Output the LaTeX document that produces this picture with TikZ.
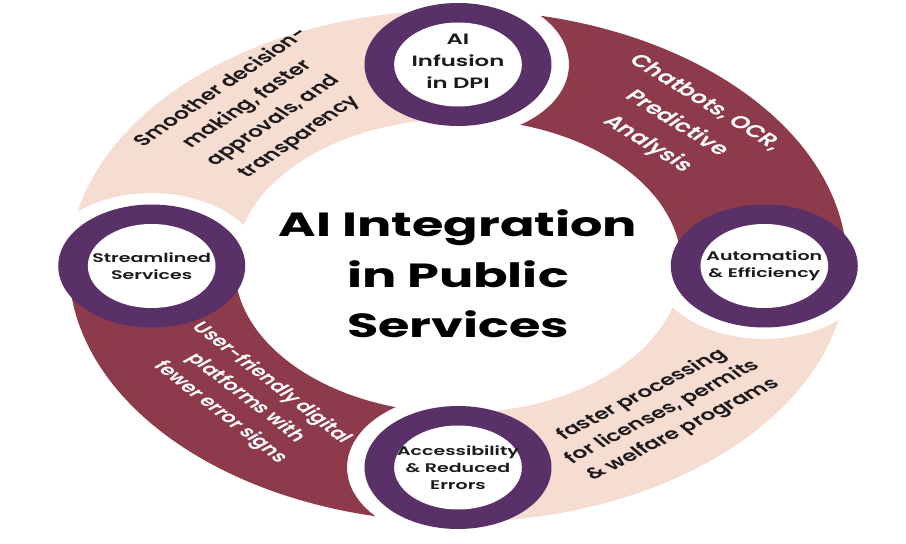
\documentclass[tikz,border=0pt]{standalone}
\usepackage{fontspec}
\setmainfont{Poppins}
\newfontfamily\bandfont{Poppins SemiBold}
\newfontfamily\semifont{Poppins SemiBold}
\definecolor{peach}{HTML}{F5DDD2}
\definecolor{wine}{HTML}{8D3A4B}
\definecolor{plum}{HTML}{5A3068}
\definecolor{ink}{HTML}{1E1A1C}
\begin{document}
\begin{tikzpicture}[x=1pt,y=1pt,
  plumdisk/.style={circle, fill=plum, minimum size=123pt, inner sep=0pt},
  whitedisk/.style={circle, fill=white, minimum size=84pt, inner sep=0pt},
  ringlbl/.style={align=center, inner sep=0pt, text=ink, font=\semifont\fontsize{12.5}{17}\selectfont},
  bandlbl/.style={align=center, inner sep=0pt},
  title/.style={align=center, inner sep=0pt, text=black, font=\bfseries\fontsize{33.5}{50.5}\selectfont},
]
\useasboundingbox (0,0) rectangle (906,544);
\fill[white] (0,0) rectangle (906,544);
\begin{scope}[shift={(458,278)}, xscale=1.52, transform shape]
 \def\Ro{256}\def\Ri{147}\def\Rc{201.5}\def\Rh{73}
 % top-left peach: from Streamlined (180) to AI (90)
 \begin{scope}
  \clip (90:\Ro) arc[start angle=90,end angle=180,radius=\Ro] -- (180:\Ri) arc[start angle=180,end angle=90,radius=\Ri] -- cycle;
  \fill[peach, even odd rule] (-300,-300) rectangle (300,300) (180:\Rc) circle[radius=\Rh];
 \end{scope}
 % top-right wine: from AI (90) to Automation (0)
 \begin{scope}
  \clip (0:\Ro) arc[start angle=0,end angle=90,radius=\Ro] -- (90:\Ri) arc[start angle=90,end angle=0,radius=\Ri] -- cycle;
  \fill[wine, even odd rule] (-300,-300) rectangle (300,300) (90:\Rc) circle[radius=\Rh];
 \end{scope}
 % bottom-right peach: from Automation (0) to Accessibility (270)
 \begin{scope}
  \clip (-90:\Ro) arc[start angle=-90,end angle=0,radius=\Ro] -- (0:\Ri) arc[start angle=0,end angle=-90,radius=\Ri] -- cycle;
  \fill[peach, even odd rule] (-300,-300) rectangle (300,300) (0:\Rc) circle[radius=\Rh];
 \end{scope}
 % bottom-left wine: from Accessibility (270) to Streamlined (180)
 \begin{scope}
  \clip (180:\Ro) arc[start angle=180,end angle=270,radius=\Ro] -- (270:\Ri) arc[start angle=270,end angle=180,radius=\Ri] -- cycle;
  \fill[wine, even odd rule] (-300,-300) rectangle (300,300) (270:\Rc) circle[radius=\Rh];
 \end{scope}

 % circles
 \node[plumdisk] (ai) at (90:\Rc) {};
 \node[whitedisk] (aiw) at (ai) {};
 \node[plumdisk] (auto) at (0:\Rc) {};
 \node[whitedisk] (autow) at (auto) {};
 \node[plumdisk] (acc) at (270:\Rc) {};
 \node[whitedisk] (accw) at (acc) {};
 \node[plumdisk] (str) at (180:\Rc) {};
 \node[whitedisk] (strw) at (str) {};

 \node[ringlbl, font=\semifont\fontsize{15}{22}\selectfont] (ailbl) at ([yshift=3]ai) {AI\\Infusion\\in DPI};
 \node[ringlbl] (autolbl) at (auto) {Automation\\\&~Efficiency};
 \node[ringlbl] (acclbl) at (acc) {Accessibility\\\&~Reduced\\Errors};
 \node[ringlbl] (strlbl) at (str) {Streamlined\\Services};

 % band texts
 \node[bandlbl, text=ink, rotate=46, font=\bandfont\fontsize{15.5}{23.6}\selectfont] (tl) at (130.2:201) {Smoother decision-\\making, faster\\approvals, and\\transparency};
 \node[bandlbl, text=white, rotate=-43, font=\bandfont\fontsize{17}{28}\selectfont] (tr) at (44.7:202) {Chatbots, OCR,\\Predictive\\Analysis};
 \node[bandlbl, text=ink, rotate=38, font=\bandfont\fontsize{15.4}{22}\selectfont] (br) at (-47.4:199) {faster processing\\for licenses, permits\\\&~welfare programs};
 \node[bandlbl, text=white, rotate=-49.5, font=\bandfont\fontsize{15}{22.3}\selectfont] (bl) at (223.4:192) {User-friendly digital\\platforms with\\fewer error signs};

 % title
 \node[title] (ttl) at (0,-8) {AI Integration\\in Public\\Services};
\end{scope}
\end{tikzpicture}
\end{document}
